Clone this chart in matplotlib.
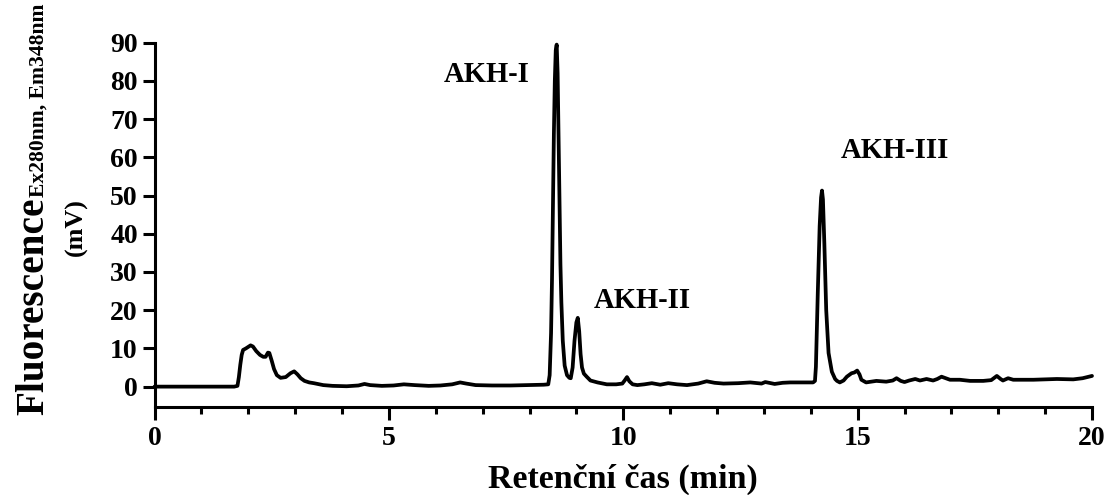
import matplotlib
matplotlib.use("Agg")
import matplotlib.pyplot as plt

plt.rcParams['font.family'] = ['Liberation Serif', 'DejaVu Serif']
plt.rcParams['font.weight'] = 'bold'

# Chromatogram trace: retention time (min), fluorescence (mV)
time_min = [
    0.0, 1.0, 1.70, 1.77, 1.80, 1.83, 1.86, 1.89, 1.95, 2.00, 2.05, 2.10, 2.17, 2.25,
    2.32, 2.37, 2.42, 2.45, 2.50, 2.55, 2.61, 2.69, 2.80, 2.90, 2.98, 3.05, 3.12, 3.20,
    3.30, 3.40, 3.60, 3.80, 4.10, 4.35, 4.48, 4.60, 4.85, 5.10, 5.32, 5.55, 5.85, 6.10,
    6.35, 6.52, 6.65, 6.85, 7.20, 7.60, 8.00, 8.30, 8.40,
    8.43, 8.46, 8.48, 8.50, 8.52, 8.54, 8.56, 8.58, 8.60, 8.62, 8.64, 8.66, 8.68, 8.71,
    8.75, 8.80, 8.85, 8.88, 8.92, 8.96, 9.00, 9.03, 9.06, 9.09, 9.12, 9.16, 9.22, 9.30,
    9.45, 9.65, 9.85, 9.98, 10.03, 10.08, 10.13, 10.20, 10.30, 10.45, 10.61, 10.79, 10.96,
    11.15, 11.36, 11.60, 11.78, 11.95, 12.14, 12.45, 12.71, 12.95, 13.03, 13.23, 13.40,
    13.56, 13.84, 14.05, 14.09, 14.11, 14.15, 14.19, 14.22, 14.24, 14.26, 14.29, 14.33,
    14.38, 14.45, 14.52, 14.56, 14.62, 14.70, 14.77, 14.87, 14.93, 14.99, 15.04, 15.08,
    15.18, 15.40, 15.61, 15.75, 15.83, 15.92, 16.00, 16.10, 16.23, 16.33, 16.47, 16.61,
    16.70, 16.79, 16.88, 16.97, 17.18, 17.40, 17.68, 17.85, 17.97, 18.05, 18.10, 18.21,
    18.32, 18.75, 19.25, 19.60, 19.80, 20.00,
]
signal_mv = [
    0.0, 0.0, 0.0, 0.2, 2.5, 5.7, 8.3, 9.6, 10.0, 10.4, 10.8, 10.5, 9.3, 8.3,
    7.8, 7.8, 8.9, 8.8, 6.8, 4.6, 3.0, 2.3, 2.5, 3.5, 4.0, 3.2, 2.2, 1.5,
    1.1, 0.9, 0.4, 0.2, 0.1, 0.3, 0.7, 0.4, 0.2, 0.3, 0.6, 0.4, 0.2, 0.3,
    0.6, 1.1, 0.8, 0.4, 0.3, 0.3, 0.4, 0.5, 0.6,
    3.0, 14.0, 28.0, 48.0, 66.0, 80.0, 88.0, 89.5, 82.0, 65.0, 46.0, 32.0, 22.0, 12.0,
    5.5, 3.0, 2.3, 2.2, 5.0, 12.0, 16.8, 18.0, 14.5, 8.5, 5.0, 3.4, 2.6, 1.6,
    1.1, 0.6, 0.6, 0.8, 1.6, 2.5, 1.4, 0.6, 0.4, 0.6, 0.9, 0.5, 0.9,
    0.6, 0.4, 0.8, 1.4, 1.0, 0.8, 0.9, 1.1, 0.8, 1.2, 0.7, 1.0,
    1.1, 1.1, 1.1, 1.5, 5.2, 24.5, 42.0, 49.5, 51.3, 49.0, 37.5, 20.0,
    8.8, 3.9, 2.0, 1.5, 1.1, 1.6, 2.6, 3.5, 3.7, 4.2, 3.2, 1.8,
    1.1, 1.5, 1.3, 1.6, 2.2, 1.5, 1.2, 1.6, 2.0, 1.6, 2.0, 1.6,
    2.0, 2.6, 2.2, 1.8, 1.8, 1.5, 1.5, 1.7, 2.8, 2.0, 1.6, 2.2,
    1.8, 1.8, 2.0, 1.9, 2.2, 2.8,
]

peak_labels = ["AKH-I", "AKH-II", "AKH-III"]
peak_label_x = [7.08, 10.41, 15.80]
peak_label_y = [79.8, 20.6, 59.8]

x_major_ticks = [0, 5, 10, 15, 20]
y_major_ticks = [0, 10, 20, 30, 40, 50, 60, 70, 80, 90]

W, H = 1111, 495
fig = plt.figure(figsize=(W / 100, H / 100), dpi=100)
ax = fig.add_axes([154.5 / W, 1 - 406.5 / H, (1092 - 154.5) / W, (406.5 - 42.7) / H])

ax.plot(time_min, signal_mv, color='black', lw=2.7, solid_joinstyle='round',
        solid_capstyle='round', clip_on=False)

ax.set_xlim(0, 20)
ax.set_ylim(-5.2, 90)
for s in ['top', 'right']:
    ax.spines[s].set_visible(False)
for s in ['left', 'bottom']:
    ax.spines[s].set_linewidth(2.2)

ax.set_xticks(x_major_ticks)
ax.set_xticks(range(0, 21), minor=True)
ax.set_yticks(y_major_ticks)
ax.tick_params(axis='both', which='major', direction='out', length=9, width=2.2,
               labelsize=20)
ax.tick_params(axis='x', which='major', pad=5)
ax.tick_params(axis='x', which='minor', direction='out', length=5, width=2.2)
ax.tick_params(axis='y', which='major', pad=3)
for lab in ax.get_xticklabels() + ax.get_yticklabels():
    lab.set_fontweight('bold')

for name, px, py in zip(peak_labels, peak_label_x, peak_label_y):
    ax.text(px, py, name, ha='center', va='baseline', fontsize=20.6, fontweight='bold')

# Axis titles
fig.text(623 / W, 1 - 488 / H, "Retenční čas (min)", ha='center', va='baseline',
         fontsize=24.5, fontweight='bold')
fig.text(43 / W, 1 - 415 / H, "Fluorescence", rotation=90, rotation_mode='anchor',
         ha='left', va='baseline', fontsize=28.3, fontweight='bold')
fig.text(44 / W, 1 - 197 / H, "Ex280nm, Em348nm", rotation=90, rotation_mode='anchor',
         ha='left', va='baseline', fontsize=15.6, fontweight='bold')
fig.text(82 / W, 1 - 227 / H, "(mV)", rotation=90, rotation_mode='anchor',
         ha='center', va='baseline', fontsize=18.8, fontweight='bold')

fig.savefig("out.png", dpi=100)
